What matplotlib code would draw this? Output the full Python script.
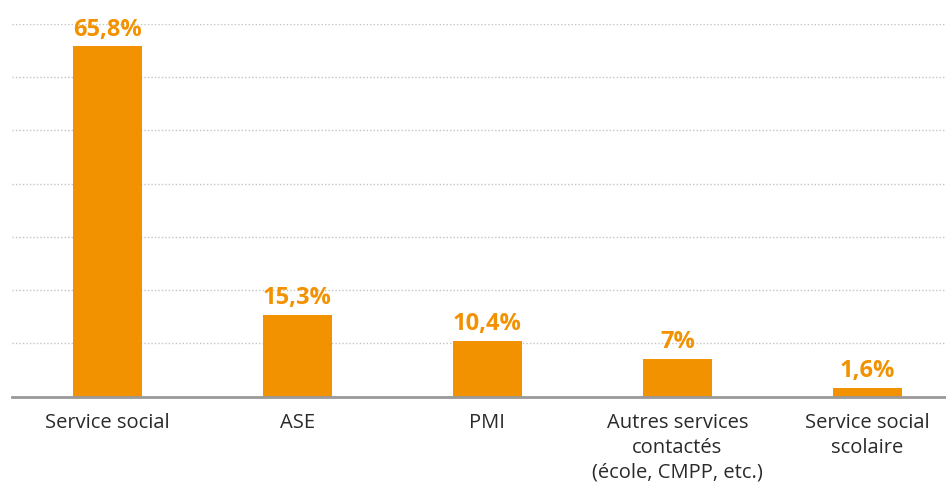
import matplotlib
matplotlib.use("Agg")
import matplotlib.pyplot as plt

categories = ["Service social", "ASE", "PMI",
              "Autres services\ncontactés\n(école, CMPP, etc.)",
              "Service social\nscolaire"]
values = [65.8, 15.3, 10.4, 7.0, 1.6]
value_labels = ["65,8%", "15,3%", "10,4%", "7%", "1,6%"]

ORANGE = "#F39200"

plt.rcParams['font.family'] = ['Open Sans', 'DejaVu Sans']

fig = plt.figure(figsize=(9.46, 4.84), dpi=100)
ax = fig.add_axes([12 / 946, 1 - 396.5 / 484, 950.5 / 946, 372.5 / 484])

x = list(range(len(categories)))
ax.bar(x, values, width=0.363, color=ORANGE, zorder=3)

for xi, v, lab in zip(x, values, value_labels):
    ax.text(xi, v + 0.9, lab, ha="center", va="bottom", color=ORANGE,
            fontsize=17, fontweight="bold", zorder=4)

ax.set_xlim(-0.5, 4.5)
ax.set_ylim(0, 70)
ax.set_yticks(range(10, 80, 10))
ax.yaxis.grid(True, linestyle=(0, (1, 1.5)), color="#c4c4c4", linewidth=1)
ax.set_axisbelow(True)

ax.set_xticks(x)
ax.set_xticklabels(categories, fontsize=14.5, color="#2a2a2a", linespacing=1.3)
ax.tick_params(axis="x", length=0, pad=12)
ax.tick_params(axis="y", length=0, labelleft=False)

for s in ["top", "right", "left"]:
    ax.spines[s].set_visible(False)
ax.spines["bottom"].set_color("#999999")
ax.spines["bottom"].set_linewidth(2)
ax.spines["bottom"].set_zorder(5)

fig.savefig("out.png", dpi=100)
